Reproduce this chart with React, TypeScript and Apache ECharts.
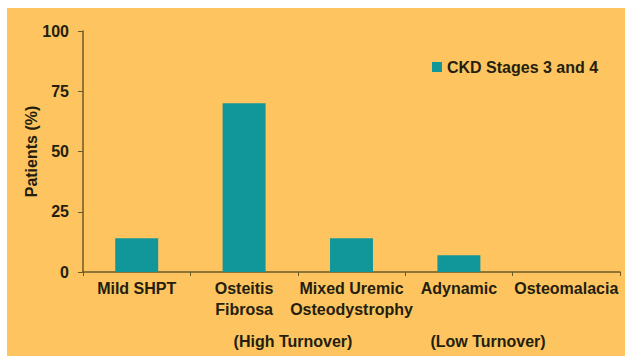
import React, { useEffect, useRef } from "react";
import * as echarts from "echarts";

const categories = ["Mild SHPT", "Osteitis\nFibrosa", "Mixed Uremic\nOsteodystrophy", "Adynamic", "Osteomalacia"];
const seriesName = "CKD Stages 3 and 4";
const values = [14, 70, 14, 7, 0];
const groupLabels = ["(High Turnover)", "(Low Turnover)"];
const yTicks = { min: 0, max: 100, interval: 25 };

const TEXT = "#241e0e";
const AXIS = "#6b5a26";
const BG = "#fdc460";
const BAR = "#11979a";
const FONT = "'Liberation Sans', Arial, sans-serif";

export default function App() {
  const ref = useRef<HTMLDivElement>(null);
  useEffect(() => {
    if (!ref.current) return;
    const chart = echarts.init(ref.current, undefined, { renderer: "svg" });
    chart.setOption({
      animation: false,
      backgroundColor: BG,
      textStyle: { fontFamily: FONT },
      grid: { left: 76, right: 5, top: 23, bottom: 84, containLabel: false },
      legend: {
        data: [seriesName],
        left: 420,
        top: 46,
        icon: "rect",
        itemWidth: 10,
        itemHeight: 10,
        itemGap: 6,
        textStyle: { color: TEXT, fontSize: 16, fontWeight: "bold", fontFamily: FONT },
      },
      xAxis: {
        type: "category",
        data: categories,
        axisLine: { lineStyle: { color: AXIS, width: 1.5 } },
        axisTick: { show: true, length: 4, alignWithLabel: false, lineStyle: { color: AXIS } },
        axisLabel: {
          color: TEXT,
          fontSize: 16,
          fontWeight: "bold",
          fontFamily: FONT,
          lineHeight: 21,
          margin: 6,
          interval: 0,
        },
      },
      yAxis: {
        type: "value",
        min: yTicks.min,
        max: yTicks.max,
        interval: yTicks.interval,
        name: "Patients (%)",
        nameLocation: "middle",
        nameGap: 44,
        nameMoveOverlap: false,
        nameTextStyle: { color: TEXT, fontSize: 16, fontWeight: "bold", fontFamily: FONT },
        axisLine: { show: true, lineStyle: { color: AXIS, width: 1.5 } },
        axisTick: { show: true, length: 5, lineStyle: { color: AXIS } },
        axisLabel: { color: TEXT, fontSize: 16, fontWeight: "bold", fontFamily: FONT, margin: 14 },
        splitLine: { show: false },
      },
      series: [
        {
          name: seriesName,
          type: "bar",
          data: values,
          barWidth: "40%",
          itemStyle: { color: BAR },
        },
      ],
      graphic: [
        {
          type: "text",
          x: 286,
          y: 333,
          style: {
            text: groupLabels[0],
            fill: TEXT,
            font: `bold 16px ${FONT}`,
            textAlign: "center",
            textVerticalAlign: "middle",
          },
        },
        {
          type: "text",
          x: 481,
          y: 333,
          style: {
            text: groupLabels[1],
            fill: TEXT,
            font: `bold 16px ${FONT}`,
            textAlign: "center",
            textVerticalAlign: "middle",
          },
        },
      ],
    });
    return () => chart.dispose();
  }, []);
  return (
    <div style={{ position: "fixed", left: 0, top: 0, width: 625, height: 356, background: "#fff" }}>
      <div ref={ref} style={{ position: "absolute", left: 7, top: 8, width: 618, height: 348 }} />
    </div>
  );
}
